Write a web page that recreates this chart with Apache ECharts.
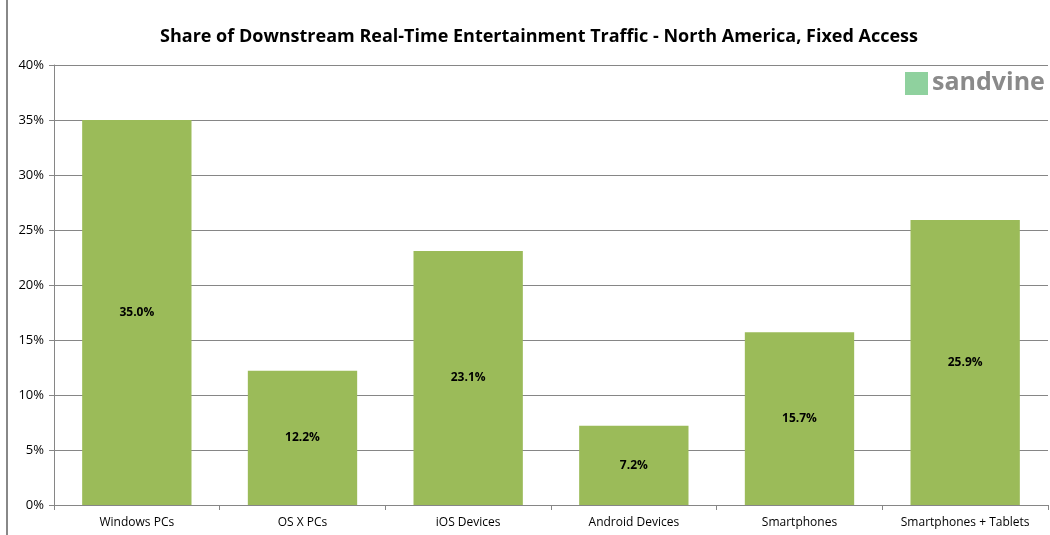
<!DOCTYPE html>
<html><head><meta charset="utf-8">
<script src="https://cdn.jsdelivr.net/npm/echarts@6/dist/echarts.min.js"></script>
<style>html,body{margin:0;padding:0;background:#fff}#c{width:1050px;height:535px}</style>
</head><body><div id="c"></div>
<script>
const categories = ['Windows PCs','OS X PCs','iOS Devices','Android Devices','Smartphones','Smartphones + Tablets'];
const shares = [35.0, 12.2, 23.1, 7.2, 15.7, 25.9];
const titleText = 'Share of Downstream Real-Time Entertainment Traffic - North America, Fixed Access';
const ff = '"Open Sans", "Noto Sans", sans-serif';
const chart = echarts.init(document.getElementById('c'));
chart.setOption({
  animation:false,
  title:{text:titleText,left:534,top:23,textAlign:'center',textStyle:{fontFamily:ff,fontSize:18,fontWeight:'bold',color:'#000'}},
  grid:{left:54,right:2,top:65,bottom:30},
  xAxis:{type:'category',data:categories,
    axisLine:{lineStyle:{color:'#868686'}},
    axisTick:{show:true,length:5,interval:0,lineStyle:{color:'#868686'}},
    axisLabel:{interval:0,fontFamily:ff,fontSize:12,color:'#000',margin:12}},
  yAxis:{type:'value',min:0,max:40,interval:5,
    axisLine:{show:true,lineStyle:{color:'#868686'}},
    axisTick:{show:true,length:5,lineStyle:{color:'#868686'}},
    splitLine:{lineStyle:{color:'#868686'}},
    axisLabel:{fontFamily:ff,fontSize:13,color:'#000',formatter:'{value}%',margin:10}},
  series:[{type:'bar',data:shares,barCategoryGap:'34%',
    itemStyle:{color:'#9BBB59'},
    label:{show:true,position:'inside',fontFamily:ff,fontSize:12,fontWeight:'bold',color:'#000',
      formatter:p=>p.value.toFixed(1)+'%'}}],
  graphic:[
    {type:'line',shape:{x1:7,y1:0,x2:7,y2:535},style:{stroke:'#888',lineWidth:2}},
    {type:'rect',shape:{x:905,y:72,width:23,height:23},style:{fill:'#8fd19e'}},
    {type:'text',left:932,top:70,style:{text:'sandvine',fontFamily:ff,fontSize:25,fontWeight:'bold',fill:'#8a8a8a'}}
  ]
});
</script></body></html>
